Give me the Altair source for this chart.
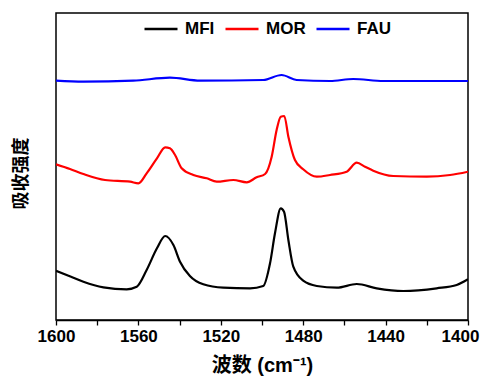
import altair as alt
import pandas as pd

mfi_x = [1600, 1593, 1586.7, 1577, 1565.7, 1560.8, 1556, 1551, 1547, 1543, 1539.8, 1535, 1528.5,
         1518.8, 1505.8, 1499.4, 1496.1, 1493.7, 1490.9, 1489.3, 1487.2, 1484.8, 1480, 1473.4,
         1463.7, 1454, 1444.3, 1431.4, 1415.2, 1405.5, 1400]
mfi_y = [49.3, 43.5, 38.3, 32.7, 30.7, 33.3, 50, 71.7, 84, 75, 58.3, 44, 35.7,
         32.3, 31.7, 34, 56.7, 86.7, 111.7, 108.3, 80, 53.3, 39.3, 34,
         32.3, 36, 31.7, 29, 31.7, 35, 40.7]

mor_x = [1600, 1593.2, 1586.7, 1576.2, 1564, 1560, 1556, 1551, 1547, 1544.7, 1542.2, 1539, 1533.3,
         1526.8, 1522, 1513.9, 1507.4, 1502.6, 1498.5, 1495.3, 1492.9, 1490.9, 1489.2, 1487.2,
         1484, 1480, 1473.4, 1467, 1458.9, 1454, 1450, 1446, 1436.3, 1420, 1408.7, 1400]
mor_y = [155.7, 151, 146, 140, 138.3, 136.7, 146.7, 161.7, 172.7, 171.7, 165, 151.7, 145,
         141.7, 138.3, 140, 137.7, 142.7, 146, 163.3, 190, 203.3, 204, 183.3,
         160, 150.7, 143.3, 145, 148.3, 157.3, 153.3, 149.3, 144, 143.3, 145, 148.3]

fau_x = [1600, 1586.7, 1562.5, 1544.7, 1530, 1499.4, 1490.5, 1483.2, 1467, 1455.7, 1441.1, 1400]
fau_y = [239.3, 238.3, 239.3, 242.3, 239.3, 240, 245, 240, 239, 241, 239, 239]

series = ["MFI", "MOR", "FAU"]
colors = ["#000000", "#ff0000", "#0000ff"]
tick_vals = [1600, 1580, 1560, 1540, 1520, 1500, 1480, 1460, 1440, 1420, 1400]

rows = []
for name, xs, ys in [("MFI", mfi_x, mfi_y), ("MOR", mor_x, mor_y), ("FAU", fau_x, fau_y)]:
    for i, (a, b) in enumerate(zip(xs, ys)):
        rows.append({"series": name, "wn": a, "v": b, "order": i})
df = pd.DataFrame(rows)

font = "Liberation Sans, Arial, Noto Sans CJK SC"

chart = alt.Chart(df).mark_line(strokeWidth=2.2, interpolate="monotone", clip=True).encode(
    x=alt.X("wn:Q",
            scale=alt.Scale(domain=[1400, 1600], reverse=True, nice=False, zero=False),
            axis=alt.Axis(values=tick_vals, title="波数 (cm⁻¹)",
                          labelExpr="datum.value % 40 == 0 ? datum.value : ''",
                          grid=False, tickSize=5, tickColor="black", tickWidth=1.3,
                          domainColor="black", domainWidth=1.5,
                          labelFont=font, labelFontSize=17, labelFontWeight="bold",
                          labelColor="black", labelPadding=3, labelFlush=False,
                          labelOffset={"condition": {"test": "datum.value == 1400", "value": -8},
                                       "value": 0},
                          titleFont=font, titleFontSize=20, titleFontWeight="bold",
                          titleColor="black", titlePadding=11)),
    y=alt.Y("v:Q", scale=alt.Scale(domain=[0, 307], nice=False),
            axis=alt.Axis(labels=False, ticks=False, domain=False, grid=False,
                          title="吸收强度", titleFont="Noto Sans CJK SC",
                          titleFontSize=18, titleFontWeight="bold", titleColor="black",
                          titleX=-35, titleY=160, titleAngle=-90,
                          titleAlign="center", titleBaseline="middle")),
    color=alt.Color("series:N", scale=alt.Scale(domain=series, range=colors),
                    legend=alt.Legend(orient="none", legendX=87, legendY=-2,
                                      direction="horizontal", title=None,
                                      symbolType="stroke", symbolSize=1089,
                                      symbolStrokeWidth=2.5, labelFont=font,
                                      labelFontSize=17, labelFontWeight="bold",
                                      labelColor="black", labelOffset=6,
                                      columnPadding=5)),
    order="order:Q",
).properties(
    width=412, height=307,
    autosize=alt.AutoSizeParams(type="none"),
    padding={"left": 48, "top": 5, "right": 12, "bottom": 57},
).configure_view(stroke="black", strokeWidth=1.5)

chart.save("out.html", embed_options={"renderer": "svg", "actions": False})
